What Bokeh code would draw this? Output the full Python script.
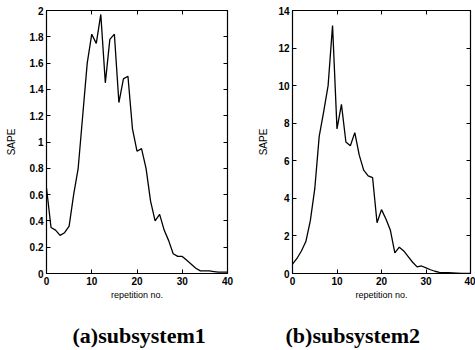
from bokeh.plotting import figure
from bokeh.layouts import row
from bokeh.models import LinearAxis, FixedTicker, Title, Range1d
from bokeh.embed import file_html
from bokeh.resources import INLINE

# ---- data ----
rep1 = list(range(0, 41))
sape1 = [0.65, 0.35, 0.33, 0.29, 0.31, 0.36, 0.60, 0.80, 1.20, 1.60,
         1.82, 1.75, 1.97, 1.45, 1.78, 1.82, 1.30, 1.48, 1.50, 1.10,
         0.93, 0.95, 0.80, 0.55, 0.40, 0.45, 0.33, 0.25, 0.15, 0.13,
         0.13, 0.10, 0.07, 0.04, 0.02, 0.02, 0.02, 0.015, 0.01, 0.01, 0.01]
rep2 = list(range(0, 41))
sape2 = [0.50, 0.80, 1.20, 1.70, 2.80, 4.50, 7.30, 8.60, 10.0, 13.2,
         7.70, 9.00, 7.00, 6.80, 7.50, 6.30, 5.50, 5.20, 5.10, 2.70,
         3.40, 2.90, 2.30, 1.10, 1.40, 1.20, 0.90, 0.60, 0.35, 0.40,
         0.30, 0.20, 0.12, 0.06, 0.04, 0.04, 0.03, 0.02, 0.01, 0.01, 0.01]

xticks = [0, 10, 20, 30, 40]
yticks1 = [0, 0.2, 0.4, 0.6, 0.8, 1, 1.2, 1.4, 1.6, 1.8, 2]
yticks2 = [0, 2, 4, 6, 8, 10, 12, 14]
ylabel = "SAPE"
xlabel = "repetition no."
captions = ["(a)subsystem1", "(b)subsystem2"]


def fmt(v):
    return "%g" % v


def make(x, y, ymax, yticks, caption, w, bl, br, cap_off, ylab_standoff):
    p = figure(width=w, height=350, output_backend="svg", toolbar_location=None,
               x_range=Range1d(0, 40), y_range=Range1d(0, ymax),
               min_border_left=bl, min_border_right=br, min_border_top=10,
               min_border_bottom=77, x_axis_type=None, y_axis_type=None)
    p.grid.visible = False
    p.outline_line_color = "black"
    p.outline_line_width = 1.2
    p.background_fill_color = "white"
    p.border_fill_color = "white"

    def style(ax, labels=True):
        ax.major_tick_in = 4
        ax.major_tick_out = 0
        ax.minor_tick_line_color = None
        ax.axis_line_color = "black"
        ax.major_tick_line_color = "black"
        if labels:
            ax.major_label_text_font = "Liberation Sans"
            ax.major_label_text_font_size = "10px"
            ax.major_label_text_font_style = "bold"
            ax.major_label_text_color = "black"
            ax.major_label_standoff = 3
            ax.axis_label_text_font = "Liberation Sans"
            ax.axis_label_text_font_size = "9px"
            ax.axis_label_text_font_style = "normal"
            ax.axis_label_text_color = "black"
            ax.axis_label_standoff = 2

    xa = LinearAxis(ticker=FixedTicker(ticks=xticks), axis_label=xlabel)
    xa.major_label_overrides = {t: fmt(t) for t in xticks}
    style(xa)
    ya = LinearAxis(ticker=FixedTicker(ticks=yticks), axis_label=ylabel)
    ya.major_label_overrides = {t: fmt(t) for t in yticks}
    style(ya)
    ya.axis_label_text_font_size = "10px"
    ya.axis_label_standoff = ylab_standoff
    p.add_layout(xa, "below")
    p.add_layout(ya, "left")

    # mirrored tick marks on the top and right edges (no labels)
    xt = LinearAxis(ticker=FixedTicker(ticks=xticks))
    style(xt, False)
    xt.major_label_text_font_size = "1px"
    xt.major_label_standoff = 0
    xt.major_label_overrides = {t: "" for t in xticks}
    yr = LinearAxis(ticker=FixedTicker(ticks=yticks))
    style(yr, False)
    yr.major_label_text_font_size = "1px"
    yr.major_label_standoff = 0
    yr.major_label_overrides = {t: "" for t in yticks}
    p.add_layout(xt, "above")
    p.add_layout(yr, "right")

    p.line(x, y, line_color="black", line_width=1.3)

    # blank spacer panel between the x axis and the caption
    spacer = Title(text=" ", text_font_size="10px", standoff=5)
    p.add_layout(spacer, "below")
    t = Title(text=caption, align="left", offset=cap_off, vertical_align="bottom",
              text_font="Liberation Serif", text_font_size="22px",
              text_font_style="bold", text_color="black", standoff=0)
    p.add_layout(t, "below")
    return p


p1 = make(rep1, sape1, 2, yticks1, captions[0], 237, 46, 10, 26, 10)
p2 = make(rep2, sape2, 14, yticks2, captions[1], 238, 55, 5, -7, 6)
layout = row(p1, p2)
open("out.html", "w").write(file_html(layout, INLINE))
